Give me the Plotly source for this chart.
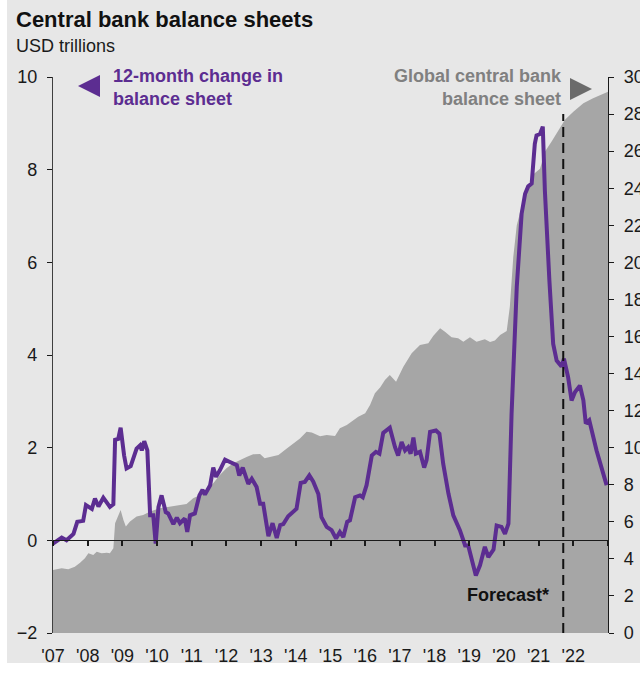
import plotly.graph_objects as go

# ---------------- data ----------------
change_years = [2007.0, 2007.25, 2007.39, 2007.59, 2007.7, 2007.87, 2007.95, 2008.12, 2008.21, 2008.31,
                2008.45, 2008.64, 2008.74, 2008.79, 2008.88, 2008.95, 2009.05, 2009.12, 2009.24, 2009.41,
                2009.51, 2009.56, 2009.63, 2009.72, 2009.8, 2009.89, 2009.96, 2010.04, 2010.13, 2010.25,
                2010.32, 2010.47, 2010.57, 2010.66, 2010.8, 2010.87, 2010.95, 2011.09, 2011.22, 2011.31,
                2011.38, 2011.53, 2011.62, 2011.7, 2011.81, 2011.96, 2012.1, 2012.3, 2012.37, 2012.47,
                2012.63, 2012.73, 2012.87, 2012.97, 2013.06, 2013.21, 2013.33, 2013.45, 2013.55, 2013.64,
                2013.78, 2014.02, 2014.14, 2014.26, 2014.39, 2014.5, 2014.65, 2014.74, 2014.89, 2015.03,
                2015.16, 2015.27, 2015.37, 2015.48, 2015.56, 2015.71, 2015.85, 2015.93, 2016.04, 2016.19,
                2016.31, 2016.41, 2016.52, 2016.71, 2016.86, 2016.95, 2017.05, 2017.15, 2017.24, 2017.31,
                2017.39, 2017.46, 2017.58, 2017.7, 2017.77, 2017.87, 2018.04, 2018.14, 2018.25, 2018.4,
                2018.54, 2018.73, 2018.88, 2018.97, 2019.19, 2019.31, 2019.45, 2019.55, 2019.7, 2019.79,
                2019.93, 2020.03, 2020.13, 2020.22, 2020.37, 2020.51, 2020.61, 2020.7, 2020.8, 2020.89,
                2020.94, 2021.04, 2021.12, 2021.18, 2021.31, 2021.42, 2021.52, 2021.66, 2021.73, 2021.85,
                2021.95, 2022.05, 2022.19, 2022.29, 2022.36, 2022.46, 2022.67, 2022.96]
change_values = [-0.07, 0.06, 0.0, 0.14, 0.4, 0.42, 0.76, 0.68, 0.9, 0.73,
                 0.92, 0.72, 0.78, 2.17, 2.19, 2.43, 1.83, 1.55, 1.6, 1.98,
                 2.05, 1.94, 2.14, 1.94, 0.54, 0.54, -0.07, 0.72, 0.97, 0.61,
                 0.58, 0.35, 0.49, 0.37, 0.47, 0.18, 0.54, 0.58, 0.97, 1.09,
                 0.99, 1.19, 1.57, 1.37, 1.51, 1.74, 1.69, 1.62, 1.4, 1.57,
                 1.22, 1.33, 1.15, 0.79, 0.79, 0.09, 0.37, 0.05, 0.33, 0.35,
                 0.52, 0.68, 1.24, 1.26, 1.4, 1.27, 1.0, 0.5, 0.29, 0.22,
                 0.04, 0.18, 0.07, 0.4, 0.43, 0.93, 0.97, 0.93, 1.19, 1.83,
                 1.91, 1.87, 2.32, 2.43, 2.01, 1.83, 2.12, 1.94, 2.01, 1.87,
                 2.22, 1.87, 1.91, 1.57, 1.73, 2.34, 2.37, 2.3, 1.65, 1.01,
                 0.54, 0.22, -0.11, -0.11, -0.76, -0.54, -0.14, -0.36, -0.2, 0.32,
                 0.29, 0.14, 0.36, 2.73, 5.47, 7.05, 7.48, 7.64, 7.7, 8.56,
                 8.74, 8.77, 8.93, 7.55, 5.61, 4.24, 3.88, 3.75, 3.92, 3.52,
                 3.02, 3.2, 3.34, 3.02, 2.52, 2.59, 1.94, 1.19]

sheet_years = [2007.0, 2007.25, 2007.44, 2007.63, 2007.78, 2007.92, 2008.02, 2008.16, 2008.26, 2008.4,
               2008.55, 2008.64, 2008.74, 2008.79, 2008.85, 2008.95, 2009.03, 2009.1, 2009.22, 2009.41,
               2009.6, 2009.8, 2010.08, 2010.37, 2010.66, 2010.85, 2011.04, 2011.24, 2011.43, 2011.62,
               2011.81, 2012.0, 2012.2, 2012.39, 2012.58, 2012.77, 2012.97, 2013.1, 2013.26, 2013.5,
               2013.74, 2013.93, 2014.12, 2014.31, 2014.46, 2014.7, 2014.89, 2015.13, 2015.27, 2015.47,
               2015.66, 2015.8, 2016.0, 2016.14, 2016.28, 2016.43, 2016.57, 2016.71, 2016.89, 2017.1,
               2017.34, 2017.58, 2017.82, 2017.96, 2018.16, 2018.3, 2018.49, 2018.68, 2018.83, 2019.02,
               2019.21, 2019.45, 2019.6, 2019.74, 2019.89, 2020.08, 2020.17, 2020.27, 2020.37, 2020.51,
               2020.66, 2020.85, 2021.04, 2021.18, 2021.37, 2021.57, 2021.76, 2022.0, 2022.29, 2022.57,
               2022.96, 2023.0]
sheet_values = [3.4, 3.49, 3.44, 3.58, 3.79, 4.03, 4.3, 4.21, 4.39, 4.3,
                4.33, 4.3, 4.57, 5.92, 6.19, 6.64, 6.1, 5.74, 6.01, 6.28,
                6.37, 6.55, 6.73, 6.82, 6.91, 6.96, 7.27, 7.45, 7.72, 8.08,
                8.53, 8.89, 9.16, 9.34, 9.5, 9.64, 9.66, 9.43, 9.51, 9.6,
                9.95, 10.24, 10.5, 10.86, 10.82, 10.62, 10.69, 10.63, 11.05, 11.22,
                11.5, 11.67, 11.86, 12.3, 12.94, 13.25, 13.65, 13.92, 13.56, 14.37,
                15.09, 15.54, 15.63, 16.03, 16.44, 16.26, 15.96, 15.9, 15.72, 15.96,
                15.72, 15.85, 15.7, 15.78, 16.08, 16.3, 17.6, 20.3, 22.0, 23.0,
                23.9, 24.75, 25.05, 25.97, 26.51, 27.15, 27.69, 28.13, 28.59, 28.86,
                29.16, 29.2]

year_ticks = list(range(2007, 2023))
year_labels = ["'07", "'08", "'09", "'10", "'11", "'12", "'13", "'14", "'15", "'16",
               "'17", "'18", "'19", "'20", "'21", "'22"]
left_ticks = [-2, 0, 2, 4, 6, 8, 10]
right_ticks = list(range(0, 31, 2))
forecast_start = 2021.71

# ---------------- styling ----------------
W, H = 640, 673
L, R, T, B = 53, 608, 77, 633
FONT = "Liberation Sans, Arial, sans-serif"
BG = "#e7e7e7"
PURPLE = "#5c2d91"
AREA = "#a6a6a6"


def xp(px):
    return (px - L) / (R - L)


def yp(py):
    return (B - py) / (B - T)


fig = go.Figure()

fig.add_trace(go.Scatter(
    x=sheet_years, y=sheet_values, mode="lines", fill="tozeroy",
    fillcolor=AREA, line=dict(color=AREA, width=0), xaxis="x", yaxis="y",
    hoverinfo="skip", showlegend=False))

fig.add_trace(go.Scatter(
    x=change_years, y=change_values, mode="lines",
    line=dict(color=PURPLE, width=4), xaxis="x2", yaxis="y2",
    showlegend=False))

zero_pos = (0 - left_ticks[0]) / (left_ticks[-1] - left_ticks[0])

fig.update_layout(
    width=W, height=H,
    margin=dict(l=L, r=W - R, t=T, b=H - B),
    paper_bgcolor="white", plot_bgcolor=BG,
    font=dict(family=FONT, size=18, color="#1a1a1a"),
    template="none",
    xaxis=dict(range=[2007, 2023], tickvals=year_ticks, ticktext=year_labels,
               ticks="", showline=False, showgrid=False, zeroline=False,
               ticklabelstandoff=10, tickfont=dict(size=18, color="#1a1a1a"),
               anchor="y", automargin=False),
    xaxis2=dict(range=[2007, 2023], tickvals=list(range(2007, 2024)),
                showticklabels=False, ticks="outside", ticklen=5, tickwidth=1.5,
                tickcolor="#1a1a1a", showline=True, linecolor="#1a1a1a", linewidth=1.3,
                showgrid=False, zeroline=False, overlaying="x", anchor="free",
                position=zero_pos, side="bottom", automargin=False),
    yaxis=dict(range=[0, 30], tickvals=right_ticks, side="right", anchor="x",
               ticks="outside", ticklen=5, tickcolor="#1a1a1a", showline=True,
               linecolor="#1a1a1a", linewidth=1.3, showgrid=False, zeroline=False,
               ticklabelstandoff=6, tickfont=dict(size=18, color="#1a1a1a"),
               automargin=False),
    yaxis2=dict(range=[-2, 10], tickvals=left_ticks, side="left", anchor="x",
                overlaying="y", ticks="outside", ticklen=5, tickcolor="#1a1a1a",
                showline=True, linecolor="#404040", linewidth=1.3, showgrid=False,
                zeroline=False, ticklabelstandoff=6,
                tickfont=dict(size=18, color="#1a1a1a"), automargin=False),
)

shapes = [
    # gray panel background
    dict(type="rect", xref="paper", yref="paper", layer="below",
         x0=xp(7), x1=xp(645), y0=yp(663), y1=yp(-5),
         fillcolor=BG, line=dict(width=0)),
    # forecast divider
    dict(type="line", xref="x2", yref="y2", x0=forecast_start, x1=forecast_start,
         y0=-2, y1=9.2, line=dict(color="#111111", width=2, dash="10px,6px")),
    # purple left arrow
    dict(type="path", xref="paper", yref="paper",
         path=f"M {xp(78)} {yp(86)} L {xp(100)} {yp(75)} L {xp(100)} {yp(97)} Z",
         fillcolor=PURPLE, line=dict(width=0)),
    # gray right arrow
    dict(type="path", xref="paper", yref="paper",
         path=f"M {xp(570)} {yp(78)} L {xp(592)} {yp(89)} L {xp(570)} {yp(100)} Z",
         fillcolor="#6b6b6b", line=dict(width=0)),
]
fig.update_layout(shapes=shapes)

annotations = [
    dict(text="<b>Central bank balance sheets</b>", xref="paper", yref="paper",
         x=xp(14), y=yp(20), xanchor="left", yanchor="middle", showarrow=False,
         font=dict(size=22, color="#111111", family=FONT)),
    dict(text="USD trillions", xref="paper", yref="paper",
         x=xp(14), y=yp(46), xanchor="left", yanchor="middle", showarrow=False,
         font=dict(size=18, color="#1a1a1a", family=FONT)),
    dict(text="<b>12-month change in<br>balance sheet</b>", xref="paper", yref="paper",
         x=xp(111), y=yp(87), xanchor="left", yanchor="middle", align="left",
         showarrow=False, font=dict(size=18, color=PURPLE, family=FONT)),
    dict(text="<b>Global central bank<br>balance sheet</b>", xref="paper", yref="paper",
         x=xp(564), y=yp(87), xanchor="right", yanchor="middle", align="right",
         showarrow=False, font=dict(size=18, color="#808080", family=FONT)),
    dict(text="<b>Forecast*</b>", xref="paper", yref="paper",
         x=xp(551), y=yp(595), xanchor="right", yanchor="middle",
         showarrow=False, font=dict(size=18, color="#111111", family=FONT)),
]
fig.update_layout(annotations=annotations)

fig.write_html("out.html")
